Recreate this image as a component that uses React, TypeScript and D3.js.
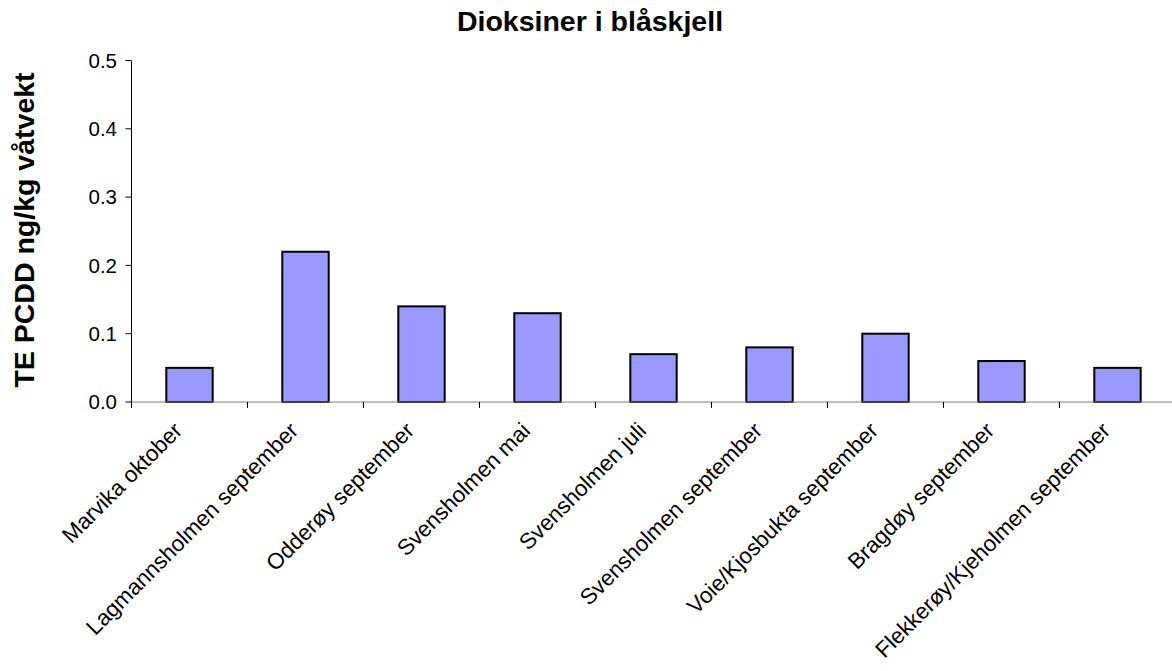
import React from "react";
import * as d3 from "d3";

const categories = [
  "Marvika oktober",
  "Lagmannsholmen september",
  "Odderøy september",
  "Svensholmen mai",
  "Svensholmen juli",
  "Svensholmen september",
  "Voie/Kjosbukta september",
  "Bragdøy september",
  "Flekkerøy/Kjeholmen september",
];
const values = [0.05, 0.22, 0.14, 0.13, 0.07, 0.08, 0.1, 0.06, 0.05];
const yTicks = [0, 0.1, 0.2, 0.3, 0.4, 0.5];
const title = "Dioksiner i blåskjell";
const yTitle = "TE PCDD ng/kg våtvekt";

export default function App() {
  const W = 1172;
  const H = 671;
  const left = 131.5;
  const right = 1175.5;
  const top = 60.5;
  const bottom = 402;
  const x = d3.scaleBand<string>().domain(categories).range([left, right]).paddingInner(0.6).paddingOuter(0.3);
  const xb = d3.scaleBand<string>().domain(categories).range([left, right]);
  const y = d3.scaleLinear().domain([0, 0.5]).range([bottom, top]);
  const font = "Liberation Sans, Arial, sans-serif";
  return (
    <div style={{ position: "absolute", left: 0, top: 0 }}>
      <svg width={W} height={H} style={{ display: "block", background: "#fff" }} fontFamily={font}>
        <text x={590} y={31} textAnchor="middle" fontSize={28.5} fontWeight="bold" fill="#000">
          {title}
        </text>
        <text
          transform={`translate(34,230) rotate(-90)`}
          textAnchor="middle"
          fontSize={28.5}
          fontWeight="bold"
          fill="#000"
        >
          {yTitle}
        </text>
        {categories.map((c, i) => (
          <rect
            key={c}
            x={x(c)!}
            y={y(values[i])}
            width={x.bandwidth()}
            height={bottom - y(values[i])}
            fill="#9999FF"
            stroke="#000"
            strokeWidth={2}
          />
        ))}
        <line x1={left} x2={left} y1={top} y2={bottom} stroke="#000" strokeWidth={1} />
        <line x1={left} x2={right} y1={bottom} y2={bottom} stroke="#808080" strokeWidth={1} />
        {yTicks.map((t) => (
          <g key={t}>
            <line x1={left - 6} x2={left} y1={y(t)} y2={y(t)} stroke="#000" />
            <text x={117} y={y(t)} dy="0.36em" textAnchor="end" fontSize={20.5} fill="#000">
              {t.toFixed(1)}
            </text>
          </g>
        ))}
        {categories.map((c) => (
          <line
            key={"t" + c}
            x1={xb(c)!}
            x2={xb(c)!}
            y1={bottom}
            y2={bottom + 6}
            stroke="#000"
          />
        ))}
        {categories.map((c) => {
          const cx = xb(c)! + xb.bandwidth() / 2;
          return (
            <text
              key={"l" + c}
              transform={`translate(${cx - 6},${bottom + 30}) rotate(-45)`}
              textAnchor="end"
              fontSize={22.3}
              fill="#000"
            >
              {c}
            </text>
          );
        })}
      </svg>
    </div>
  );
}
